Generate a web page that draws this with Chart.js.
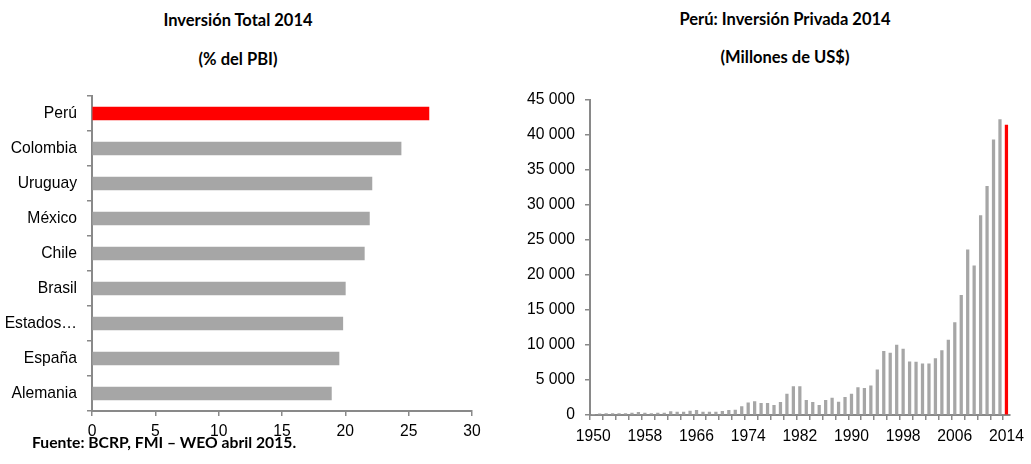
<!DOCTYPE html>
<html>
<head>
<meta charset="utf-8">
<script src="https://cdn.jsdelivr.net/npm/chart.js@4/dist/chart.umd.min.js"></script>
<style>
  html, body { margin: 0; padding: 0; background: #fff; }
  #wrap { position: relative; width: 1031px; height: 464px; overflow: hidden; background: #fff; }
  canvas { position: absolute; top: 0; }
  .t { position: absolute; font-family: Lato, "Open Sans", sans-serif; font-weight: bold; font-size: 16.5px;
       color: #000; white-space: nowrap; line-height: 1; transform: translate(-50%, -50%); }
  .src { position: absolute; font-family: Lato, "Open Sans", sans-serif; font-weight: bold; font-size: 15.7px;
         color: #000; white-space: nowrap; line-height: 1; transform: translateY(-50%); }
</style>
</head>
<body>
<div id="wrap">
  <div class="t" style="left:238px;top:20px;">Inversión Total 2014</div>
  <div class="t" style="left:238px;top:59px;">(% del PBI)</div>
  <div class="t" style="left:785px;top:19px;">Perú: Inversión Privada 2014</div>
  <div class="t" style="left:785px;top:57px;">(Millones de US$)</div>
  <canvas id="izq" width="500" height="464" style="left:0;"></canvas>
  <canvas id="der" width="511" height="464" style="left:520px;"></canvas>
  <div class="src" style="left:32px;top:443px;">Fuente: BCRP, FMI – WEO abril 2015.</div>
</div>
<script>
// Inversión total 2014 (% del PBI), de arriba hacia abajo
const paises = ['Perú', 'Colombia', 'Uruguay', 'México', 'Chile', 'Brasil', 'Estados Unidos', 'España', 'Alemania'];
const inversionTotal = [26.6, 24.4, 22.1, 21.9, 21.5, 20.0, 19.8, 19.5, 18.9];
const ticksPBI = [0, 5, 10, 15, 20, 25, 30];

// Perú: inversión privada (millones de US$)
const anios = [
  1950, 1951, 1952, 1953, 1954, 1955, 1956, 1957, 1958, 1959,
  1960, 1961, 1962, 1963, 1964, 1965, 1966, 1967, 1968, 1969,
  1970, 1971, 1972, 1973, 1974, 1975, 1976, 1977, 1978, 1979,
  1980, 1981, 1982, 1983, 1984, 1985, 1986, 1987, 1988, 1989,
  1990, 1991, 1992, 1993, 1994, 1995, 1996, 1997, 1998, 1999,
  2000, 2001, 2002, 2003, 2004, 2005, 2006, 2007, 2008, 2009,
  2010, 2011, 2012, 2013, 2014
];
const inversionPrivada = [
  100, 150, 190, 190, 190, 200, 290, 380, 290, 200,
  290, 290, 480, 430, 430, 570, 670, 430, 430, 430,
  520, 670, 710, 1200, 1750, 1900, 1650, 1650, 1380, 1800,
  3000, 4050, 4050, 2080, 1800, 1380, 2080, 2400, 1850, 2520,
  3000, 3900, 3800, 4150, 6450, 9100, 8850, 10000, 9400, 7600,
  7550, 7300, 7300, 8050, 9200, 10700, 13200, 17100, 23600, 21300,
  28500, 32650, 39300, 42200, 41400
];
const ticksMillones = [0, 5000, 10000, 15000, 20000, 25000, 30000, 35000, 40000, 45000];
const anioEtiquetas = [1950, 1958, 1966, 1974, 1982, 1990, 1998, 2006, 2014];

const ROJO = '#FF0000';
const GRIS = '#A6A6A6';
const EJE = '#898989';
const fuenteEje = { family: '"Liberation Sans", Arial, sans-serif', size: 15.7 };

Chart.defaults.animation = false;
Chart.defaults.devicePixelRatio = 1;
Chart.defaults.color = '#000';
Chart.defaults.plugins.legend.display = false;
Chart.defaults.plugins.tooltip.enabled = false;
Chart.defaults.plugins.title.display = false;

const fijarAncho = w => scale => { scale.width = w; };
const fijarAlto = h => scale => { scale.height = h; };
const separarMiles = v => String(v).replace(/\B(?=(\d{3})+(?!\d))/g, ' ');

// Barras horizontales por país
new Chart(document.getElementById('izq'), {
  type: 'bar',
  data: {
    labels: paises,
    datasets: [{
      data: inversionTotal,
      backgroundColor: paises.map((p, i) => i === 0 ? ROJO : GRIS),
      barThickness: 13,
      borderWidth: 0
    }]
  },
  options: {
    responsive: false,
    indexAxis: 'y',
    layout: { padding: { top: 96, right: 28, bottom: 0, left: 0 } },
    scales: {
      x: {
        min: 0, max: 30,
        afterFit: fijarAlto(53),
        afterBuildTicks: s => { s.ticks = ticksPBI.map(v => ({ value: v })); },
        border: { display: true, color: EJE, width: 2 },
        grid: { display: true, drawOnChartArea: false, drawTicks: true, tickLength: 5, tickColor: EJE, lineWidth: 1.5 },
        ticks: { font: fuenteEje, padding: 6, maxRotation: 0 }
      },
      y: {
        afterFit: fijarAncho(92),
        border: { display: true, color: EJE, width: 2 },
        grid: { display: true, offset: true, drawOnChartArea: false, drawTicks: true, tickLength: 5, tickColor: EJE, lineWidth: 1.5 },
        ticks: {
          font: fuenteEje, padding: 10,
          callback: function (v) {
            const s = this.getLabelForValue(v);
            return s.length > 12 ? s.split(' ')[0] + '…' : s;
          }
        }
      }
    }
  }
});

// Serie anual de inversión privada
new Chart(document.getElementById('der'), {
  type: 'bar',
  data: {
    labels: anios,
    datasets: [{
      data: inversionPrivada,
      backgroundColor: anios.map((a, i) => i === anios.length - 1 ? ROJO : GRIS),
      barThickness: 2.6,
      borderWidth: 0
    }]
  },
  options: {
    responsive: false,
    layout: { padding: { top: 100, right: 14.6, bottom: 0, left: 0 } },
    scales: {
      x: {
        afterFit: fijarAlto(49),
        border: { display: true, color: EJE, width: 2 },
        grid: {
          display: true, offset: true, drawOnChartArea: false, drawTicks: true, tickLength: 5, lineWidth: 1.5,
          tickColor: ctx => (ctx.index !== undefined && ctx.index % 2 === 0) ? EJE : 'rgba(0,0,0,0)'
        },
        ticks: {
          font: fuenteEje, padding: 7, autoSkip: false, maxRotation: 0, minRotation: 0,
          callback: function (v) {
            const a = this.getLabelForValue(v);
            return anioEtiquetas.includes(Number(a)) ? String(a) : '';
          }
        }
      },
      y: {
        min: 0, max: 45000,
        afterFit: fijarAncho(70),
        afterBuildTicks: s => { s.ticks = ticksMillones.map(v => ({ value: v })); },
        border: { display: true, color: EJE, width: 2 },
        grid: { display: true, drawOnChartArea: false, drawTicks: true, tickLength: 5, tickColor: EJE, lineWidth: 1.5 },
        ticks: { font: fuenteEje, padding: 10, callback: v => separarMiles(v) }
      }
    }
  }
});
</script>
</body>
</html>
